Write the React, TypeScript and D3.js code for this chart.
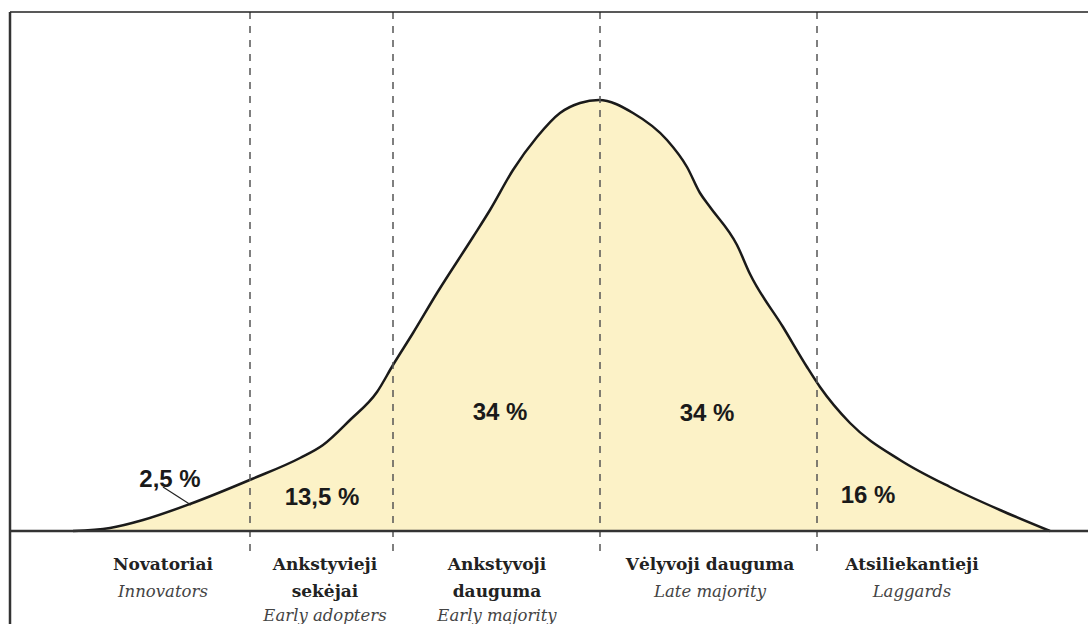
import React from 'react'
import * as d3 from 'd3'

// adoption curve (x: px from the left frame, y: height above baseline)
const curveX = [63, 100, 133, 180, 242, 290, 313, 340, 367, 383, 403, 427, 463, 480, 503, 527, 550, 570, 589,
    623, 657, 677, 690, 700, 727, 740, 773, 797, 810, 840, 890, 940, 990, 1040]
const curveY = [0, 3, 11, 27, 52, 73, 86, 111, 139, 166, 198, 238, 294, 321, 361, 394, 418, 428, 431,
    418, 391, 364, 338, 324, 286, 257, 204, 164, 144, 108, 71, 44, 21, 0]

// segment boundaries (dashed lines)
const dividers = [240, 383, 590, 807]

// share labels
const shares = ['2,5 %', '13,5 %', '34 %', '34 %', '16 %']
const shareX = [160, 312, 490, 697, 858]
const shareY = [44, 26, 111, 110, 28]

// category names (lithuanian, bold) and english (italic)
const groupsLt = [['Novatoriai'], ['Ankstyvieji', 'sekėjai'], ['Ankstyvoji', 'dauguma'], ['Vėlyvoji dauguma'], ['Atsiliekantieji']]
const groupsEn = ['Innovators', 'Early adopters', 'Early majority', 'Late majority', 'Laggards']
const groupX = [153, 315, 487, 700, 902]

const width = 1088
const height = 624

const App = () => {
    const x = d3.scaleLinear().domain([0, 1078]).range([10, 1088])
    const y = d3.scaleLinear().domain([0, 431]).range([531, 100])

    const pts = curveX.map((v, i) => [v, curveY[i]] as [number, number])

    const area = d3.area<[number, number]>()
        .x(d => x(d[0]))
        .y0(y(0))
        .y1(d => y(d[1]))
        .curve(d3.curveMonotoneX)

    const line = d3.line<[number, number]>()
        .x(d => x(d[0]))
        .y(d => y(d[1]))
        .curve(d3.curveMonotoneX)

    const serif = '"DejaVu Serif", "Liberation Serif", serif'
    const sans = '"Liberation Sans", Arial, sans-serif'

    return (
        <svg width={width} height={height} style={{ position: 'absolute', left: 0, top: 0, background: '#fff' }}>
            <path d={area(pts) || ''} fill='#fcf2c7' />
            <path d={line(pts) || ''} fill='none' stroke='#1a1a1a' strokeWidth={2.5} />

            {dividers.map((d, i) => (
                <line key={i} x1={x(d)} x2={x(d)} y1={12} y2={557}
                    stroke='#555' strokeWidth={1.5} strokeDasharray='7,7' />
            ))}

            {/* frame */}
            <line x1={10} x2={width} y1={12} y2={12} stroke='#222' strokeWidth={1.5} />
            <line x1={10} x2={10} y1={12} y2={height} stroke='#333' strokeWidth={2.5} />
            <line x1={10} x2={width} y1={y(0)} y2={y(0)} stroke='#333' strokeWidth={2.5} />

            {/* leader for 2,5 % */}
            <line x1={x(153)} y1={y(44)} x2={x(181)} y2={y(26)} stroke='#222' strokeWidth={1.2} />

            {shares.map((s, i) => (
                <text key={i} x={x(shareX[i])} y={y(shareY[i])} textAnchor='middle'
                    fontFamily={sans} fontWeight='bold' fontSize={24} fill='#1a1a1a'>{s}</text>
            ))}

            {groupsLt.map((g, i) => (
                <g key={i}>
                    {g.map((t, j) => (
                        <text key={j} x={x(groupX[i])} y={570 + j * 27} textAnchor='middle'
                            fontFamily={serif} fontWeight='bold' fontSize={17} fill='#222'>{t}</text>
                    ))}
                    <text x={x(groupX[i])} y={597 + (g.length - 1) * 24} textAnchor='middle'
                        fontFamily={serif} fontStyle='italic' fontSize={16.5} fill='#444'>{groupsEn[i]}</text>
                </g>
            ))}
        </svg>
    )
}

export default App
